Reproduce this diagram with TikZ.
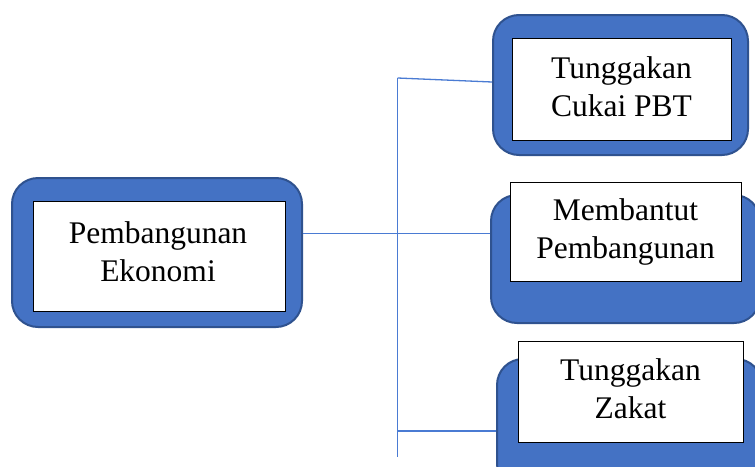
\documentclass[tikz,border=0pt]{standalone}
\usepackage{fontspec}
\setmainfont{Liberation Serif}
\definecolor{boxblue}{HTML}{4472C4}
\definecolor{boxedge}{HTML}{2F528F}
\definecolor{linkblue}{HTML}{4A7BD3}
\begin{document}
\begin{tikzpicture}[x=1pt,y=-1pt,
  outerbox/.style={draw=boxedge,line width=2pt,fill=boxblue,rounded corners=26pt,inner sep=0pt},
  innerbox/.style={draw=black,line width=0.9pt,fill=white,inner sep=0pt,align=center,
    font=\fontsize{31.5}{38}\selectfont},
  label/.style={font=\fontsize{31.5}{38}\selectfont,align=center},
  link/.style={draw=linkblue,line width=1.3pt}]
\useasboundingbox (0,0) rectangle (755,466);
\clip (0,0) rectangle (755,466);
% left
\node[outerbox,minimum width=290pt,minimum height=149pt] (lo) at (157,252.5) {};
\node[innerbox,minimum width=252pt,minimum height=110pt] (li) at (159,256) {};
\node[label] (lt) at (158,252) {Pembangunan\\Ekonomi};
% top right
\node[outerbox,minimum width=255pt,minimum height=140pt] (to) at (620.5,85) {};
\node[innerbox,minimum width=219pt,minimum height=102pt] (ti) at (621.5,89) {};
\node[label] (tt) at (621.5,87) {Tunggakan\\Cukai PBT};
% middle right
\node[outerbox,minimum width=269pt,minimum height=128pt] (mo) at (625.5,259) {};
\node[innerbox,minimum width=231pt,minimum height=99pt] (mi) at (625.5,231.5) {};
\node[label] (mt) at (625.5,232) {Membantut\\Pembangunan};
% bottom right
\node[outerbox,minimum width=265pt,minimum height=131pt] (bo) at (629.5,424.5) {};
\node[innerbox,minimum width=225pt,minimum height=101pt] (bi) at (630.5,391.5) {};
\node[label] (bt) at (630.5,389) {Tunggakan\\Zakat};
% connectors
\coordinate (vtop) at (397.5,78);
\coordinate (vbot) at (397.5,457);
\coordinate (hub) at (397.5,233.5);
\coordinate (hb) at (397.5,431);
\draw[link] (vtop) -- (vbot);
\draw[link] (hub -| lo.east) -- (hub -| mo.west);
\draw[link] (vtop) -- ([yshift=3pt]to.west);
\draw[link] (hb) -- (hb -| bo.west);
\end{tikzpicture}
\end{document}
